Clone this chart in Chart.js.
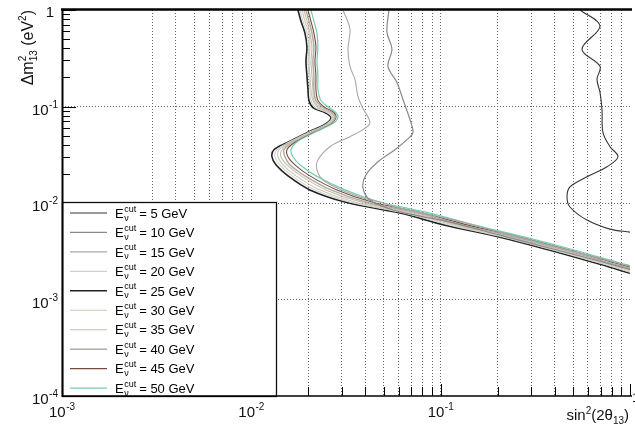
<!DOCTYPE html>
<html>
<head>
<meta charset="utf-8">
<script src="https://cdn.jsdelivr.net/npm/chart.js@4.4.0/dist/chart.umd.min.js"></script>
<style>
  html, body { margin: 0; padding: 0; background: #fff; }
  #wrap { width: 635px; height: 436px; }
</style>
</head>
<body>
<div id="wrap"><canvas id="chart" width="635" height="436"></canvas></div>
<script>
// Energy cuts in the legend
const energyCuts = [5, 10, 15, 20, 25, 30, 35, 40, 45, 50];

// 5 GeV contour
const sin2_5 = [0.5444, 0.6943, 0.5577, 0.6943, 0.6692, 0.6943, 0.7113, 0.7200, 0.7842, 0.8642, 0.7561, 0.5928, 0.4818, 0.4649, 0.4818, 0.5928, 0.7842, 1.0];
const dm2_5 = [1.0, 0.6813, 0.3924, 0.2610, 0.1911, 0.1399, 0.0931, 0.0536, 0.0383, 0.03014, 0.02371, 0.01866, 0.01468, 0.01155, 0.00909, 0.00665, 0.00536, 0.00499];

// 10 GeV contour
const sin2_10 = [0.05331, 0.05203, 0.05530, 0.05267, 0.05876, 0.06323, 0.06883, 0.07138, 0.06635, 0.05735, 0.04664, 0.04031, 0.03886, 0.04231, 0.05397, 0.07773, 0.1120, 0.2057, 0.3778, 0.6943, 1.0];
const dm2_10 = [1.0, 0.5898, 0.3924, 0.2610, 0.1778, 0.1183, 0.0732, 0.0536, 0.0453, 0.03565, 0.02674, 0.01957, 0.01433, 0.01075, 0.00866, 0.00732, 0.00634, 0.00464, 0.00340, 0.00249, 0.00205];

// 15 GeV contour
const sin2_15 = [0.03048, 0.03317, 0.03239, 0.03317, 0.03525, 0.03657, 0.03839, 0.04231, 0.03886, 0.03317, 0.02601, 0.02248, 0.02221, 0.02389, 0.02832, 0.03747, 0.04957, 0.06095, 0.1120, 0.2057, 0.3778, 0.6943, 1.0];
const dm2_15 = [1.0, 0.6339, 0.3924, 0.2610, 0.1911, 0.1271, 0.1, 0.0681, 0.0576, 0.0487, 0.0383, 0.02804, 0.02207, 0.01737, 0.01433, 0.01155, 0.01, 0.00887, 0.00681, 0.00499, 0.00365, 0.00267, 0.00221];

// 20..50 GeV contours, read along common dm2 rows
const dm2_cluster = [1.0, 0.7677, 0.5758, 0.4118, 0.2943, 0.2103, 0.1503, 0.1155, 0.09763, 0.0866, 0.0768, 0.0665, 0.05233, 0.04217, 0.03565, 0.03014, 0.02488, 0.01911, 0.01366, 0.01024, 0.007867, 0.0059, 0.004424, 0.003239, 0.002315, 0.001866];
const sin2_20 = [0.01806, 0.01873, 0.01966, 0.02015, 0.01991, 0.02015, 0.02039, 0.02064, 0.02167, 0.02508, 0.02665, 0.02508, 0.01943, 0.01561, 0.01365, 0.01332, 0.01416, 0.01638, 0.02167, 0.03317, 0.06399, 0.1120, 0.2159, 0.3966, 0.7290, 1.050];
const sin2_25 = [0.01762, 0.01828, 0.01919, 0.01966, 0.01943, 0.01966, 0.01991, 0.02015, 0.02115, 0.02447, 0.02633, 0.02477, 0.01919, 0.01542, 0.01316, 0.01285, 0.01349, 0.01561, 0.02039, 0.03121, 0.06095, 0.1054, 0.2057, 0.3778, 0.6943, 1.0];
const sin2_30 = [0.01850, 0.01919, 0.02015, 0.02039, 0.02015, 0.02039, 0.02064, 0.02115, 0.02248, 0.02538, 0.02697, 0.02538, 0.01966, 0.01599, 0.01399, 0.01382, 0.01469, 0.01720, 0.02303, 0.03525, 0.06799, 0.1176, 0.2239, 0.4113, 0.7561, 1.116];
const sin2_35 = [0.01896, 0.01966, 0.02039, 0.02090, 0.02064, 0.02090, 0.02115, 0.02141, 0.02303, 0.02601, 0.02730, 0.02569, 0.01991, 0.01619, 0.01451, 0.01433, 0.01542, 0.01828, 0.02477, 0.03793, 0.07138, 0.1234, 0.2351, 0.4319, 0.7938, 1.171];
const sin2_40 = [0.01943, 0.02015, 0.02090, 0.02141, 0.02115, 0.02141, 0.02141, 0.02194, 0.02389, 0.02665, 0.02764, 0.02601, 0.02015, 0.01638, 0.01487, 0.01505, 0.01599, 0.01919, 0.02633, 0.04031, 0.07584, 0.1311, 0.2469, 0.4534, 0.8334, 1.245];
const sin2_45 = [0.01991, 0.02064, 0.02141, 0.02194, 0.02167, 0.02194, 0.02194, 0.02248, 0.02447, 0.02730, 0.02798, 0.02633, 0.02039, 0.01679, 0.01542, 0.01561, 0.01699, 0.02039, 0.02832, 0.04336, 0.08059, 0.1393, 0.2623, 0.4818, 0.8855, 1.323];
const sin2_50 = [0.02064, 0.02141, 0.02221, 0.02248, 0.02221, 0.02248, 0.02248, 0.02331, 0.02569, 0.02798, 0.02866, 0.02697, 0.02090, 0.01720, 0.01619, 0.01658, 0.01806, 0.02194, 0.03121, 0.04779, 0.08780, 0.1518, 0.2788, 0.5122, 0.9410, 1.440];

// Axis decades and their labels (base, exponent)
const xDecades = [1e-3, 1e-2, 1e-1, 1];
const xTickLabels = [['10', '-3'], ['10', '-2'], ['10', '-1'], ['1', '']];
const yDecades = [1e-4, 1e-3, 1e-2, 1e-1, 1];
const yTickLabels = [['10', '-4'], ['10', '-3'], ['10', '-2'], ['10', '-1'], ['1', '']];

const lineColors = ['#353535', '#8a8a8a', '#a8a8a8', '#d0d0d0', '#222222', '#cbc8b2', '#c5bbad', '#b2aba4', '#7a4a3a', '#72ceb3'];
const lineWidths = [1.1, 1.2, 1.1, 1.1, 1.6, 1.1, 1.1, 1.5, 1.1, 1.2];

const curves = [
    [sin2_5, dm2_5], [sin2_10, dm2_10], [sin2_15, dm2_15],
    [sin2_20, dm2_cluster], [sin2_25, dm2_cluster], [sin2_30, dm2_cluster],
    [sin2_35, dm2_cluster], [sin2_40, dm2_cluster], [sin2_45, dm2_cluster], [sin2_50, dm2_cluster]
];

const datasets = curves.map(([xs, ys], i) => ({
    label: `E = ${energyCuts[i]} GeV`,
    energy: energyCuts[i],
    data: xs.map((v, k) => ({ x: v, y: ys[k] })),
    showLine: true,
    borderColor: lineColors[i],
    backgroundColor: lineColors[i],
    borderWidth: lineWidths[i],
    pointRadius: 0,
    tension: 0.35,
    fill: false
}));

const FONT = '"Liberation Sans", Arial, Helvetica, sans-serif';

function logTicks(min, max) {
    const out = [];
    for (let e = Math.round(Math.log10(min)); e < Math.round(Math.log10(max)); e++) {
        for (let m = 1; m <= 9; m++) out.push({ value: m * Math.pow(10, e) });
    }
    out.push({ value: max });
    return out;
}

function isDecade(v) {
    const l = Math.log10(v);
    return Math.abs(l - Math.round(l)) < 1e-6;
}

// draws "base" with a raised exponent
function drawPow(ctx, base, exp, x, y, align, size) {
    ctx.font = `${size}px ${FONT}`;
    const wb = ctx.measureText(base).width;
    const es = Math.round(size * 0.66);
    ctx.font = `${es}px ${FONT}`;
    const we = exp ? ctx.measureText(exp).width + 0.5 : 0;
    const total = wb + we;
    let x0 = x;
    if (align === 'right') x0 = x - total;
    if (align === 'center') x0 = x - total / 2;
    ctx.textAlign = 'left';
    ctx.textBaseline = 'alphabetic';
    ctx.font = `${size}px ${FONT}`;
    ctx.fillText(base, x0, y);
    if (exp) {
        ctx.font = `${es}px ${FONT}`;
        ctx.fillText(exp, x0 + wb + 0.5, y - size * 0.45);
    }
}

// draws a list of [text, size, dy, advances] pieces ending at x
function drawPieces(ctx, pieces, xEnd, y) {
    let w = 0;
    pieces.forEach(p => { ctx.font = `${p[1]}px ${FONT}`; if (p[3]) w += ctx.measureText(p[0]).width; });
    let x = xEnd - w;
    pieces.forEach(p => {
        ctx.font = `${p[1]}px ${FONT}`;
        ctx.fillText(p[0], x, y + p[2]);
        if (p[3]) x += ctx.measureText(p[0]).width;
    });
}

const rootFrame = {
    id: 'rootFrame',
    afterDraw(chart) {
        const { ctx, chartArea: a } = chart;
        const xs = chart.scales.x, ys = chart.scales.y;
        ctx.save();
        ctx.strokeStyle = '#000';
        ctx.fillStyle = '#000';

        // tick marks, drawn inside the frame
        ctx.lineWidth = 1;
        ys.ticks.forEach(t => {
            const py = Math.round(ys.getPixelForValue(t.value)) + 0.5;
            const len = isDecade(t.value) ? 14 : 8;
            ctx.beginPath();
            ctx.moveTo(a.left, py);
            ctx.lineTo(a.left + len, py);
            ctx.stroke();
        });
        xs.ticks.forEach(t => {
            const px = Math.round(xs.getPixelForValue(t.value)) + 0.5;
            const len = isDecade(t.value) ? 12 : 9;
            ctx.beginPath();
            ctx.moveTo(px, a.bottom);
            ctx.lineTo(px, a.bottom - len);
            ctx.stroke();
        });

        // legend box
        const lx0 = a.left, ly0 = 202, lx1 = 276, ly1 = a.bottom;
        ctx.fillStyle = '#fff';
        ctx.fillRect(lx0, ly0, lx1 - lx0, ly1 - ly0);
        ctx.strokeStyle = '#111';
        ctx.lineWidth = 1.3;
        ctx.strokeRect(lx0 + 0.5, ly0 + 0.5, lx1 - lx0, ly1 - ly0);
        chart.data.datasets.forEach((ds, i) => {
            const cy = 213 + i * 19.45;
            ctx.strokeStyle = ds.borderColor;
            ctx.lineWidth = ds.borderWidth;
            ctx.beginPath();
            ctx.moveTo(70, cy);
            ctx.lineTo(107, cy);
            ctx.stroke();
            ctx.fillStyle = '#000';
            ctx.textAlign = 'left';
            ctx.textBaseline = 'alphabetic';
            ctx.font = `13px ${FONT}`;
            ctx.fillText('E', 115, cy + 4.7);
            const wE = ctx.measureText('E').width;
            ctx.font = `9px ${FONT}`;
            ctx.fillText('cut', 115 + wE + 0.5, cy - 1.5);
            const wCut = ctx.measureText('cut').width;
            ctx.fillText('\u03bd', 115 + wE + 0.5, cy + 7.5);
            ctx.font = `13px ${FONT}`;
            ctx.fillText(`= ${ds.energy} GeV`, 115 + wE + wCut + 3.5, cy + 4.7);
        });

        // frame lines
        ctx.strokeStyle = '#000';
        ctx.lineWidth = 2.5;
        ctx.beginPath();
        ctx.moveTo(a.left - 1, a.top - 0.5);
        ctx.lineTo(a.right + 2, a.top - 0.5);
        ctx.stroke();
        ctx.lineWidth = 2;
        ctx.beginPath();
        ctx.moveTo(a.left + 0.5, a.top - 1);
        ctx.lineTo(a.left + 0.5, a.bottom + 1);
        ctx.stroke();
        ctx.lineWidth = 1.4;
        ctx.beginPath();
        ctx.moveTo(a.left, a.bottom);
        ctx.lineTo(a.right + 2, a.bottom);
        ctx.stroke();

        // tick labels
        ctx.fillStyle = '#111';
        yDecades.forEach((v, i) => {
            const py = ys.getPixelForValue(v);
            const [b, e] = yTickLabels[i];
            if (e) drawPow(ctx, b, e, 58, py + 8, 'right', 15);
            else drawPow(ctx, b, e, 54, py + 7, 'right', 15);
        });
        xDecades.forEach((v, i) => {
            const px = xs.getPixelForValue(v);
            const [b, e] = xTickLabels[i];
            if (e) drawPow(ctx, b, e, px, 417, 'center', 15);
            else drawPow(ctx, b, e, px + 2, 402, 'left', 13);
        });

        // x title: sin^2(2theta_13)
        ctx.textAlign = 'left';
        drawPieces(ctx, [
            ['sin', 15, 0, true], ['2', 10, -6, true], ['(2\u03b8', 15, 0, true], ['13', 10, 4, true], [')', 15, 0, true]
        ], 629, 420);

        // y title: Delta m^2_13 (eV^2), rotated
        ctx.save();
        ctx.translate(33, 10);
        ctx.rotate(-Math.PI / 2);
        drawPieces(ctx, [
            ['\u0394m', 16, 0, true], ['2', 10, -7, false], ['13', 10, 4, true], [' (eV', 16, 0, true], ['2', 10, -7, true], [')', 16, 0, true]
        ], 0, 0);
        ctx.restore();

        ctx.restore();
    }
};

const chart = new Chart(document.getElementById('chart').getContext('2d'), {
    type: 'scatter',
    data: { datasets },
    options: {
        responsive: false,
        animation: false,
        layout: { padding: { left: 62, right: 5, top: 10, bottom: 40 } },
        plugins: { legend: { display: false }, tooltip: { enabled: false } },
        scales: {
            x: {
                type: 'logarithmic',
                min: 1e-3,
                max: 1,
                afterBuildTicks: s => { s.ticks = logTicks(1e-3, 1); },
                ticks: { display: false },
                border: { display: false, dash: [1, 2] },
                grid: {
                    drawTicks: false,
                    lineWidth: 1,
                    color: c => (c.tick && c.tick.value > 2.5e-3 && c.tick.value < 0.99) ? '#666' : 'rgba(0,0,0,0)'
                }
            },
            y: {
                type: 'logarithmic',
                min: 1e-4,
                max: 1,
                afterBuildTicks: s => { s.ticks = logTicks(1e-4, 1); },
                ticks: { display: false },
                border: { display: false, dash: [1, 2] },
                grid: {
                    drawTicks: false,
                    lineWidth: 1,
                    color: c => (c.tick && isDecade(c.tick.value) && c.tick.value > 2e-4 && c.tick.value < 0.5) ? '#666' : 'rgba(0,0,0,0)'
                }
            }
        }
    },
    plugins: [rootFrame]
});
</script>
</body>
</html>
